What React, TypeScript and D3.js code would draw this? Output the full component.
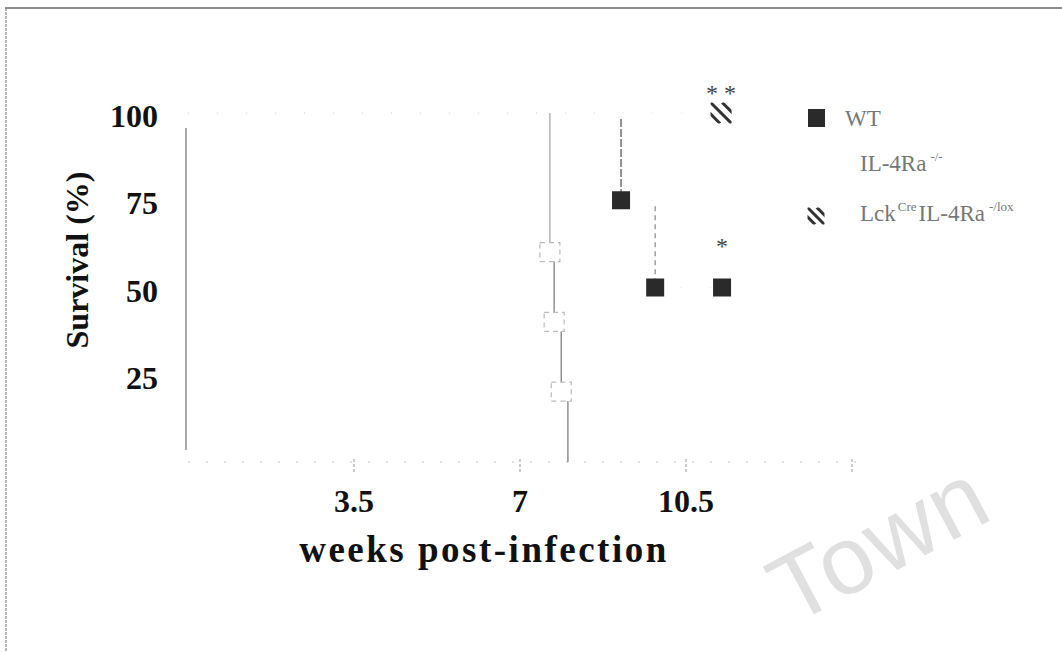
import React from "react";
import * as d3 from "d3";

// Survival (%) over weeks post-infection
const xTicks = [3.5, 7, 10.5, 14];
const xTickLabels = ["3.5", "7", "10.5", ""];
const yTicks = [25, 50, 75, 100];

// WT: event times (weeks) and survival after each step
const wtTimes = [9.13, 9.85, 11.26];
const wtSurv = [75, 50, 50];

// IL-4Ra -/-
const ilTimes = [7.63, 7.72, 7.87, 8.01];
const ilSurv = [60, 40, 20, 0];
const ilMarked = [true, true, true, false];

// LckCre IL-4Ra -/lox
const lckTimes = [11.24];
const lckSurv = [100];

const W = 1062;
const H = 652;

const x = d3.scaleLinear().domain([0, 14]).range([188, 852]);
const y = d3.scaleLinear().domain([0, 100]).range([462, 113]);

const serif = "'Liberation Serif', 'DejaVu Serif', serif";

const stepLine = d3
  .line<[number, number]>()
  .x((d) => x(d[0]))
  .y((d) => y(d[1]))
  .curve(d3.curveStepAfter);

function series(times: number[], surv: number[]): [number, number][] {
  return [[0, 100] as [number, number], ...times.map((t, i) => [t, surv[i]] as [number, number])];
}

// vertical drops of a step curve: [time, from, to]
function drops(times: number[], surv: number[]): [number, number, number][] {
  const out: [number, number, number][] = [];
  let prev = 100;
  times.forEach((t, i) => {
    if (surv[i] !== prev) out.push([t, prev, surv[i]]);
    prev = surv[i];
  });
  return out;
}

function Hatched({ cx, cy, s, id }: { cx: number; cy: number; s: number; id: string }) {
  const h = s / 2;
  const offsets = [-0.55, 0, 0.55];
  return (
    <g>
      <clipPath id={id}>
        <rect x={cx - h} y={cy - h} width={s} height={s} />
      </clipPath>
      <g clipPath={`url(#${id})`}>
        {offsets.map((o, i) => (
          <line
            key={i}
            x1={cx - h + o * s}
            y1={cy - h}
            x2={cx + h + o * s}
            y2={cy + h}
            stroke="#333"
            strokeWidth={3}
          />
        ))}
      </g>
    </g>
  );
}

export default function App() {
  const sq = 18;
  const wtPts = series(wtTimes, wtSurv);
  const ilPts = series(ilTimes, ilSurv);
  const lckPts = series(lckTimes, lckSurv);

  return (
    <svg
      width={W}
      height={H}
      viewBox={`0 0 ${W} ${H}`}
      style={{ position: "absolute", left: 0, top: 0, background: "#fff" }}
    >
      {/* frame */}
      <line x1={5} y1={8} x2={W} y2={8} stroke="#666" strokeWidth={1.5} />
      <line x1={6} y1={8} x2={6} y2={H} stroke="#888" strokeWidth={1.2} strokeDasharray="3 1" />

      {/* watermark */}
      <text
        transform="translate(792, 626) rotate(-28)"
        fontFamily="'Liberation Sans', Arial, sans-serif"
        fontSize={96}
        letterSpacing={2}
        fill="#e0e0e0"
      >
        Town
      </text>

      {/* y axis line */}
      <line x1={x(0) - 2} x2={x(0) - 2} y1={y(100) + 15} y2={y(0) - 12} stroke="#777" strokeWidth={1.3} />

      {/* x axis */}
      <line
        x1={x(0)}
        x2={x(14) + 8}
        y1={y(0)}
        y2={y(0)}
        stroke="#c4c4c4"
        strokeWidth={1}
        strokeDasharray="2 16"
      />
      {xTicks.map((t, i) => (
        <g key={i}>
          <line x1={x(t)} x2={x(t)} y1={y(0) - 3} y2={y(0) + 10} stroke="#aaa" strokeWidth={1.2} strokeDasharray="3 2" />
          <text
            x={x(t)}
            y={y(0) + 50}
            textAnchor="middle"
            fontFamily={serif}
            fontWeight="bold"
            fontSize={32}
            fill="#111"
          >
            {xTickLabels[i]}
          </text>
        </g>
      ))}

      {/* y tick labels */}
      {yTicks.map((v) => (
        <text
          key={v}
          x={158}
          y={y(v) + 14}
          textAnchor="end"
          fontFamily={serif}
          fontWeight="bold"
          fontSize={32}
          fill="#111"
        >
          {v}
        </text>
      ))}

      {/* axis titles */}
      <text
        transform="translate(88, 260) rotate(-90)"
        textAnchor="middle"
        fontFamily={serif}
        fontWeight="bold"
        fontSize={32}
        fill="#111"
      >
        Survival (%)
      </text>
      <text
        x={484}
        y={562}
        textAnchor="middle"
        fontFamily={serif}
        fontWeight="bold"
        fontSize={37}
        letterSpacing={2.5}
        fill="#111"
      >
        weeks post-infection
      </text>

      {/* faint horizontal runs of the step curves */}
      {[lckPts, wtPts, ilPts].map((pts, i) => (
        <path
          key={i}
          d={stepLine(pts) ?? ""}
          fill="none"
          stroke="#e4e4e4"
          strokeWidth={1}
          strokeDasharray="1 28"
        />
      ))}

      {/* IL-4Ra -/- drops and markers */}
      {drops(ilTimes, ilSurv).map(([t, a, b], i) => (
        <line
          key={i}
          x1={x(t)}
          x2={x(t)}
          y1={y(a)}
          y2={y(b)}
          stroke={i === 0 ? "#b0b0b0" : "#888"}
          strokeWidth={1.4}
        />
      ))}
      {ilTimes.map((t, i) =>
        ilMarked[i] ? (
          <rect
            key={i}
            x={x(t) - 10}
            y={y(ilSurv[i]) - 10}
            width={20}
            height={19}
            fill="#fff"
            stroke="#bbb"
            strokeWidth={1.2}
            strokeDasharray="5 4"
          />
        ) : null
      )}

      {/* WT drops and markers */}
      {drops(wtTimes, wtSurv).map(([t, a, b], i) => (
        <line
          key={i}
          x1={x(t)}
          x2={x(t)}
          y1={y(a) + 6}
          y2={y(b)}
          stroke={i === 0 ? "#666" : "#999"}
          strokeWidth={1.4}
          strokeDasharray={i === 0 ? "8 2" : "5 4"}
        />
      ))}
      {wtTimes.map((t, i) => (
        <rect
          key={i}
          x={x(t) - sq / 2}
          y={y(wtSurv[i]) - sq / 2}
          width={sq}
          height={sq}
          fill="#2a2a2a"
        />
      ))}

      {/* Lck curve marker */}
      {lckTimes.map((t, i) => (
        <Hatched key={i} cx={x(t)} cy={y(lckSurv[i])} s={21} id={`lck-h-${i}`} />
      ))}

      {/* significance */}
      <text
        x={x(lckTimes[0])}
        y={y(lckSurv[0]) - 12}
        textAnchor="middle"
        fontFamily={serif}
        fontSize={24}
        fill="#444"
      >
        * *
      </text>
      <text
        x={x(wtTimes[2])}
        y={y(wtSurv[2]) - 34}
        textAnchor="middle"
        fontFamily={serif}
        fontSize={24}
        fill="#444"
      >
        *
      </text>

      {/* legend */}
      <g fontFamily={serif} fill="#777" fontSize={23}>
        <rect x={808} y={109} width={17} height={18} fill="#2a2a2a" />
        <text x={845} y={126}>WT</text>

        <text x={860} y={171}>
          IL-4Ra
          <tspan fontSize={13} dy={-10} dx={4}>-/-</tspan>
        </text>

        <Hatched cx={816} cy={216} s={17} id="lck-legend" />
        <text x={860} y={221}>
          Lck
          <tspan fontSize={13} dy={-10} dx={2}>Cre</tspan>
          <tspan dy={10} dx={2}>IL-4Ra</tspan>
          <tspan fontSize={13} dy={-10} dx={4}>-/lox</tspan>
        </text>
      </g>
    </svg>
  );
}
